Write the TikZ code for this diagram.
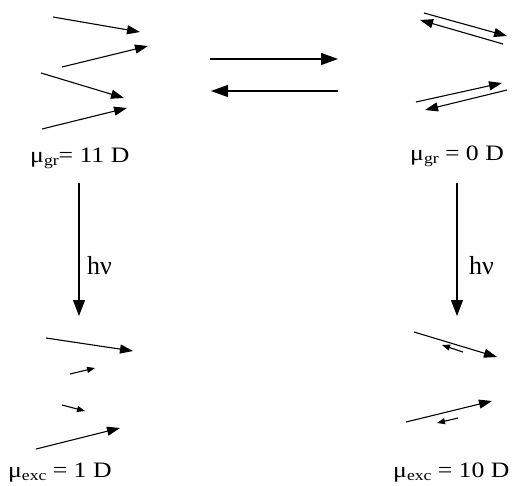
\documentclass[tikz,border=0pt]{standalone}
\usepackage{fontspec}
\setmainfont{Liberation Serif}
\usetikzlibrary{arrows.meta}
\tikzset{
  dip/.style={line width=1.1pt, -{Triangle[length=13pt,width=9pt]}},
  sdip/.style={line width=1.1pt, -{Triangle[length=8pt,width=6pt]}},
  eq/.style={line width=1.2pt, -{Triangle[length=17pt,width=12pt]}},
  ex/.style={line width=1.1pt, -{Triangle[length=16pt,width=12pt]}},
  lbl/.style={anchor=base west, inner sep=0pt, font=\fontsize{22}{22}\selectfont},
  hv/.style={anchor=base west, inner sep=0pt, font=\fontsize{26}{26}\selectfont}
}
\newcommand{\subs}[1]{\raisebox{-0.35ex}{\fontsize{15}{15}\selectfont #1}}
\newcommand{\wide}[1]{\scalebox{1.17}[1]{#1}}
\begin{document}
\begin{tikzpicture}[x=1pt,y=-1pt]
\useasboundingbox (0,0) rectangle (516,485);
% top-left dipoles
\coordinate (a1s) at (53,17);  \coordinate (a1e) at (140,32);
\coordinate (a2s) at (62,67);  \coordinate (a2e) at (148,46);
\coordinate (a3s) at (41,73);  \coordinate (a3e) at (124,98);
\coordinate (a4s) at (42,129); \coordinate (a4e) at (127,108);
\draw[dip] (a1s) -- (a1e);
\draw[dip] (a2s) -- (a2e);
\draw[dip] (a3s) -- (a3e);
\draw[dip] (a4s) -- (a4e);
% top-right dipoles
\coordinate (b1s) at (424,13);  \coordinate (b1e) at (507,36);
\coordinate (b2s) at (503,44);  \coordinate (b2e) at (420,20);
\coordinate (b3s) at (416,102); \coordinate (b3e) at (502,83);
\coordinate (b4s) at (507,90);  \coordinate (b4e) at (425,110);
\draw[dip] (b1s) -- (b1e);
\draw[dip] (b2s) -- (b2e);
\draw[dip] (b3s) -- (b3e);
\draw[dip] (b4s) -- (b4e);
% equilibrium arrows
\coordinate (e1s) at (210,59); \coordinate (e1e) at (338,59);
\coordinate (e2s) at (338,91); \coordinate (e2e) at (211,91);
\draw[eq] (e1s) -- (e1e);
\draw[eq] (e2s) -- (e2e);
% labels
\node[lbl] (lgr) at (30,162) {\wide{μ\subs{gr}= 11 D}};
\node[lbl] (rgr) at (410,160) {\wide{μ\subs{gr} = 0 D}};
% excitation arrows
\coordinate (v1s) at (79,183); \coordinate (v1e) at (79,316);
\coordinate (v2s) at (457,183); \coordinate (v2e) at (457,316);
\draw[ex] (v1s) -- (v1e);
\draw[ex] (v2s) -- (v2e);
\node[hv] (h1) at (87,274) {hν};
\node[hv] (h2) at (469,274) {hν};
% bottom-left dipoles
\coordinate (c1s) at (46,338); \coordinate (c1e) at (133,351);
\coordinate (c2s) at (70,374); \coordinate (c2e) at (95,368);
\coordinate (c3s) at (62,405); \coordinate (c3e) at (85,411);
\coordinate (c4s) at (36,449); \coordinate (c4e) at (120,428);
\draw[dip] (c1s) -- (c1e);
\draw[sdip] (c2s) -- (c2e);
\draw[sdip] (c3s) -- (c3e);
\draw[dip] (c4s) -- (c4e);
% bottom-right dipoles
\coordinate (d1s) at (414,332); \coordinate (d1e) at (497,357);
\coordinate (d2s) at (463,352); \coordinate (d2e) at (442,345);
\coordinate (d3s) at (406,422); \coordinate (d3e) at (492,401);
\coordinate (d4s) at (458,418); \coordinate (d4e) at (437,423);
\draw[dip] (d1s) -- (d1e);
\draw[sdip] (d2s) -- (d2e);
\draw[dip] (d3s) -- (d3e);
\draw[sdip] (d4s) -- (d4e);
\node[lbl] (lex) at (8,477) {\wide{μ\subs{exc} = 1 D}};
\node[lbl] (rex) at (393,477) {\wide{μ\subs{exc} = 10 D}};
\end{tikzpicture}
\end{document}
